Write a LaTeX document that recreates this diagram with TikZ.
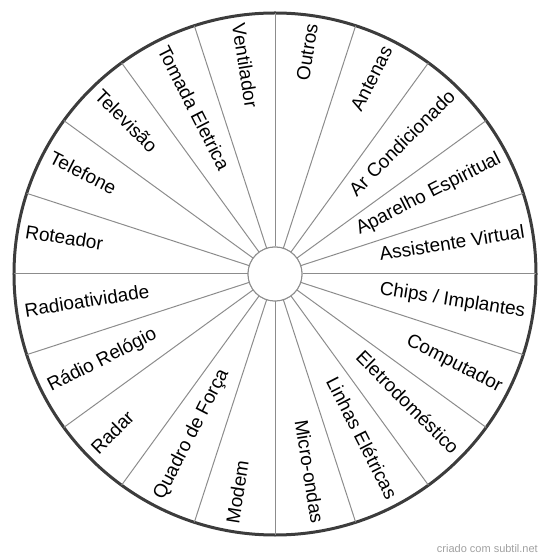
\documentclass[tikz,border=0pt]{standalone}
\usepackage{fontspec}
\setmainfont{Liberation Sans}
\usepackage{tikz}
\usetikzlibrary{calc}
\definecolor{rimgray}{RGB}{60,60,60}
\definecolor{spokegray}{RGB}{140,140,140}
\definecolor{creditgray}{RGB}{160,160,160}

\tikzset{
  rim/.style={draw=rimgray, line width=3pt},
  spoke/.style={draw=spokegray, line width=1pt},
  hubring/.style={circle, draw=spokegray, line width=1pt, fill=white, minimum size=54pt, inner sep=0pt},
  lbl/.style={font=\fontsize{19}{19}\selectfont, inner sep=0pt, text height=0.72em, text depth=0pt}
}

\begin{document}
\begin{tikzpicture}[x=1pt,y=1pt]
  \useasboundingbox (-275,-285) rectangle (275,274);
  % Hub and rim
  \node[hubring] (hub) at (0,0) {};
  \draw[rim] (0,0) circle (261);
  % Spokes, every 18 degrees
  \foreach \a in {0,18,...,342}
    \draw[spoke] (hub.\a) -- (\a:261);
  \node[hubring] at (hub) {};
  % Right half: text runs outwards
  \foreach \txt [count=\i] in {Outros, Antenas, Ar Condicionado, Aparelho Espiritual, Assistente Virtual, Chips / Implantes, Computador, Eletrodoméstico, Linhas Elétricas, Micro-ondas}{
    \pgfmathsetmacro\a{99-18*\i}
    \node[lbl, anchor=east, rotate=\a] (r\i) at (\a:253) {\txt};
  }
  % Left half: text runs inwards
  \foreach \txt [count=\i] in {Modem, Quadro de Força, Radar, Rádio Relógio, Radioatividade, Roteador, Telefone, Televisão, Tomada Eletrica, Ventilador}{
    \pgfmathsetmacro\a{-81-18*\i}
    \node[lbl, anchor=west, rotate=\a+180] (l\i) at (\a:253) {\txt};
  }
  % Credit
  \node[anchor=base east, inner sep=0pt, font=\fontsize{11}{11}\selectfont, text=creditgray] (credit) at (263,-278) {criado com subtil.net};
\end{tikzpicture}
\end{document}
